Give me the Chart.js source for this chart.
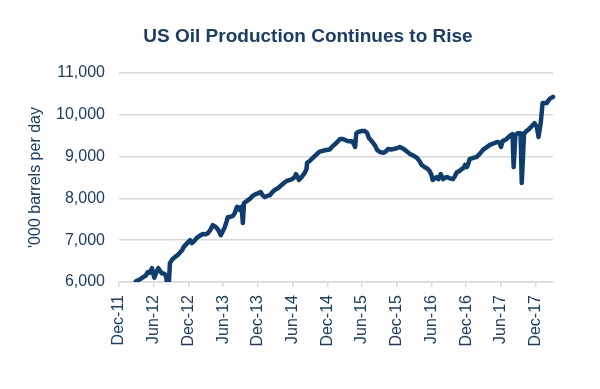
<!DOCTYPE html>
<html>
<head>
<meta charset="utf-8">
<title>US Oil Production</title>
<script src="https://cdn.jsdelivr.net/npm/chart.js@4/dist/chart.umd.min.js"></script>
<style>
  body { margin: 0; background: #fff; }
  #wrap { width: 600px; height: 389px; }
</style>
</head>
<body>
<div id="wrap">
  <canvas id="my-chart" width="600" height="389"></canvas>
</div>
<script>
'use strict';

// ************************* GLOBAL VARIABLES ***************************

let chartTitle = 'US Oil Production Continues to Rise';
let yAxisTitle = '\'000 barrels per day';

// x = months after Dec-11
let months = [
  2.9, 3.3, 3.8, 4.2, 4.6, 5.0, 5.3, 5.7, 6.1, 6.5, 6.8, 7.1, 7.4, 7.8, 8.0, 8.2, 8.3, 8.6, 8.8,
  9.2, 9.7, 10.1, 10.5, 10.9, 11.2, 11.6, 12.0, 12.3, 12.6, 13.0, 13.4, 13.9, 14.5, 14.9, 15.4,
  15.8, 16.2, 16.6, 16.9, 17.2, 17.6, 18.0, 18.3, 18.6, 18.8, 19.2, 19.7, 20.0, 20.4, 20.7, 20.9,
  21.2, 21.4, 21.6, 22.0, 22.3, 22.7, 23.1, 23.6, 24.0, 24.5, 24.8, 25.2, 25.6, 26.1, 26.5, 26.9,
  27.5, 28.1, 28.6, 29.0, 29.5, 29.9, 30.3, 30.6, 30.9, 31.1, 31.6, 32.1, 32.4, 32.5, 33.0, 33.5,
  34.1, 34.7, 35.3, 35.9, 36.4, 37.0, 37.6, 38.2, 38.7, 39.2, 39.6, 40.2, 40.6, 40.8, 41.0, 41.3,
  41.9, 42.5, 42.9, 43.2, 43.5, 43.9, 44.3, 44.6, 45.1, 45.7, 46.1, 46.5, 47.0, 47.4, 48.0, 48.5,
  48.8, 49.2, 49.8, 50.3, 50.9, 51.5, 51.9, 52.3, 52.8, 53.4, 53.7, 54.0, 54.2, 54.6, 54.9, 55.2,
  55.6, 56.0, 56.4, 56.7, 57.2, 57.7, 58.0, 58.4, 58.8, 59.2, 59.5, 59.8, 60.1, 60.3, 60.6, 61.2,
  61.8, 62.3, 62.9, 63.5, 64.1, 64.8, 65.5, 65.8, 66.0, 66.3, 66.9, 67.5, 68.0, 68.2, 68.5, 68.9,
  69.4, 69.6, 70.0, 70.5, 71.0, 71.4, 71.8, 72.2, 72.5, 72.9, 73.2, 73.9, 74.4, 75.0
];

let production = [
  6010, 6040, 6080, 6120, 6150, 6240, 6220, 6330, 6100, 6250, 6330, 6260, 6210, 6200, 6170, 6100, 5900, 5900, 6450,
  6540, 6600, 6640, 6700, 6760, 6840, 6900, 6960, 7000, 6930, 6980, 7050, 7100, 7150, 7140, 7170,
  7250, 7360, 7330, 7290, 7230, 7120, 7230, 7320, 7450, 7550, 7560, 7580, 7650, 7800, 7780, 7720,
  7800, 7410, 7890, 7930, 7960, 8000, 8060, 8100, 8120, 8150, 8080, 8030, 8060, 8080, 8150, 8200,
  8250, 8320, 8380, 8420, 8440, 8460, 8500, 8580, 8500, 8440, 8520, 8610, 8700, 8850, 8900, 8970,
  9050, 9120, 9140, 9160, 9170, 9260, 9330, 9420, 9420, 9390, 9370, 9370, 9300, 9230, 9550, 9590,
  9610, 9610, 9560, 9440, 9400, 9330, 9250, 9160, 9110, 9090, 9120, 9180, 9170, 9180, 9200, 9230,
  9210, 9180, 9120, 9060, 9020, 8970, 8900, 8800, 8750, 8700, 8650, 8560, 8440, 8480, 8510, 8460,
  8580, 8460, 8500, 8510, 8480, 8460, 8520, 8630, 8650, 8700, 8720, 8800, 8750, 8800, 8940, 8970,
  8990, 9060, 9160, 9220, 9280, 9320, 9350, 9330, 9230, 9370, 9410, 9490, 9540, 8750, 9510, 9560,
  9560, 8370, 9550, 9620, 9680, 9740, 9800, 9710, 9470, 9830, 10280, 10280, 10380, 10430
];

let tickLabels = ['Dec-11', 'Jun-12', 'Dec-12', 'Jun-13', 'Dec-13', 'Jun-14', 'Dec-14',
  'Jun-15', 'Dec-15', 'Jun-16', 'Dec-16', 'Jun-17', 'Dec-17'];

let navy = '#0f3d6e';
let textNavy = '#1b3d66';
let gridGrey = '#d9d9d9';
let fontFamily = '"Liberation Sans", Arial, sans-serif';

// ***************************** DOM REFERENCES ***************************

let ctx = document.getElementById('my-chart').getContext('2d');

// ********************** HELPER FUNCTIONS **************************

let points = [];
for (let i = 0; i < months.length; i++) {
  points.push({ x: months[i], y: production[i] });
}

// title sits a little right of the canvas centre, so draw it ourselves
let titlePlugin = {
  id: 'chartTitle',
  afterDraw(chart) {
    let c = chart.ctx;
    c.save();
    c.font = 'bold 19px ' + fontFamily;
    c.fillStyle = textNavy;
    c.textAlign = 'center';
    c.textBaseline = 'middle';
    c.fillText(chartTitle, 308, 37);
    c.restore();
  }
};

// ********************** CHART ********************

let myChartObj = {
  type: 'line',
  data: {
    datasets: [{
      label: 'US oil production',
      data: points,
      borderColor: navy,
      backgroundColor: navy,
      borderWidth: 4.5,
      pointRadius: 0,
      tension: 0,
      borderJoinStyle: 'round',
      borderCapStyle: 'round',
      clip: { left: 2, top: 2, right: 3, bottom: 0 }
    }]
  },
  options: {
    responsive: false,
    animation: false,
    layout: {
      padding: { top: 73, right: 47, bottom: 0, left: 0 }
    },
    plugins: {
      legend: { display: false },
      tooltip: { enabled: false }
    },
    scales: {
      x: {
        type: 'linear',
        min: 0,
        max: 75,
        afterFit: function (scale) { scale.height = 107; },
        grid: {
          drawOnChartArea: false,
          drawTicks: true,
          tickLength: 5,
          color: gridGrey,
          lineWidth: 1.5
        },
        border: { display: true, color: gridGrey, width: 1.5 },
        ticks: {
          stepSize: 6,
          includeBounds: false,
          autoSkip: false,
          maxRotation: 90,
          minRotation: 90,
          padding: 8,
          color: textNavy,
          font: { family: fontFamily, size: 16 },
          callback: function (value) { return tickLabels[value / 6]; }
        }
      },
      y: {
        min: 6000,
        max: 11000,
        afterFit: function (scale) { scale.width = 119; },
        grid: {
          color: gridGrey,
          lineWidth: 1.5,
          drawTicks: false
        },
        border: { display: false },
        ticks: {
          stepSize: 1000,
          padding: 14,
          color: textNavy,
          font: { family: fontFamily, size: 16 },
          callback: function (value) { return value.toLocaleString('en-US'); }
        },
        title: {
          display: true,
          text: yAxisTitle,
          color: textNavy,
          font: { family: fontFamily, size: 16 },
          padding: { top: 26, bottom: 0 }
        }
      }
    }
  },
  plugins: [titlePlugin]
};

new Chart(ctx, myChartObj);
</script>
</body>
</html>
